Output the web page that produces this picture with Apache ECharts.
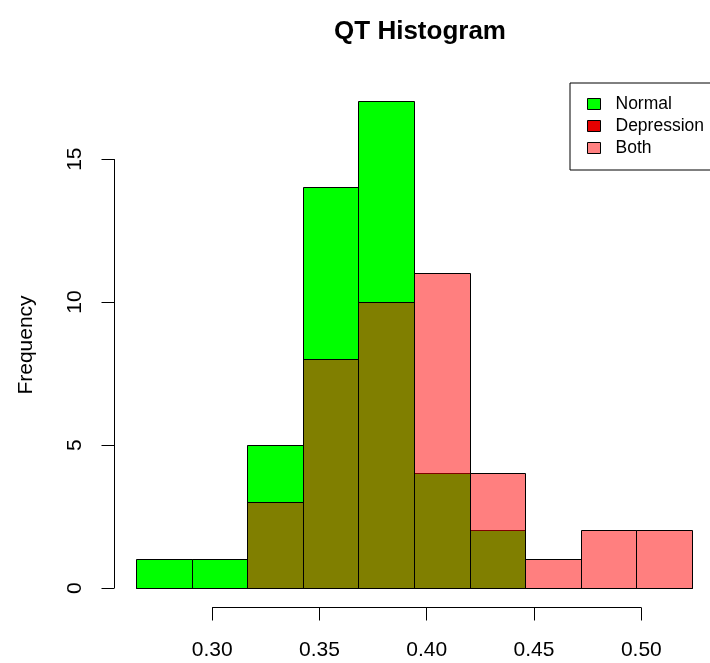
<!DOCTYPE html>
<html>
<head>
<meta charset="utf-8">
<script src="https://cdn.jsdelivr.net/npm/echarts@6/dist/echarts.min.js"></script>
<style>
  html, body { margin: 0; padding: 0; background: #fff; }
  #chart { width: 710px; height: 663px; }
</style>
</head>
<body>
<div id="chart"></div>
<script>
// Histogram bin edges (QT interval, seconds)
const breaks = [0.2648, 0.2907, 0.3166, 0.3425, 0.3684, 0.3943, 0.4202, 0.4461, 0.4720, 0.4979, 0.5238];
// Counts per bin
const normalCounts = [1, 1, 5, 14, 17, 4, 2, 0, 0, 0];
const depressionCounts = [0, 0, 3, 8, 10, 11, 4, 1, 2, 2];
// Axis ticks
const xTicks = [0.30, 0.35, 0.40, 0.45, 0.50];
const yTicks = [0, 5, 10, 15];
const legendNames = ['Normal', 'Depression', 'Both'];

// Plot range with R-style 4% padding
const xMin = 0.2545, xMax = 0.5341;
const yMin = -0.68, yMax = 17.68;

const FONT = '"Liberation Sans", Arial, sans-serif';

function binRows(counts) {
  return counts.map((c, i) => [breaks[i], breaks[i + 1], c]);
}

// Snap to pixel centres so 1px outlines stay crisp
const snap = v => Math.round(v - 0.5) + 0.5;

function histRenderer(fill) {
  return function (params, api) {
    const p0 = api.coord([api.value(0), 0]);
    const p1 = api.coord([api.value(1), api.value(2)]);
    const x0 = snap(p0[0]), x1 = snap(p1[0]);
    const yb = snap(p0[1]), yt = snap(p1[1]);
    return {
      type: 'rect',
      shape: { x: x0, y: yt, width: x1 - x0, height: yb - yt },
      style: { fill: fill, stroke: '#000', lineWidth: 1 }
    };
  };
}

const chart = echarts.init(document.getElementById('chart'), null, { renderer: 'canvas' });

chart.setOption({
  animation: false,
  backgroundColor: '#fff',
  textStyle: { fontFamily: FONT },
  title: {
    text: 'QT Histogram',
    left: 415,
    textAlign: 'center',
    top: 14,
    textStyle: { fontFamily: FONT, fontSize: 26, fontWeight: 'bold', color: '#000' }
  },
  legend: {
    orient: 'vertical',
    left: 570,
    top: 83,
    padding: [11, 12, 12, 17],
    itemGap: 2,
    itemWidth: 13,
    itemHeight: 11,
    icon: 'rect',
    backgroundColor: '#fff',
    borderColor: '#000',
    borderWidth: 1,
    borderRadius: 0,
    selectedMode: false,
    textStyle: { fontFamily: FONT, fontSize: 17.5, color: '#000', lineHeight: 20, padding: [0, 0, 0, 10] },
    data: [
      { name: legendNames[0], itemStyle: { color: '#00FF00', borderColor: '#000', borderWidth: 1 } },
      { name: legendNames[1], itemStyle: { color: '#E60000', borderColor: '#000', borderWidth: 1 } },
      { name: legendNames[2], itemStyle: { color: '#FF8080', borderColor: '#000', borderWidth: 1 } }
    ]
  },
  grid: { left: 114.5, top: 82.5, width: 600, height: 525, containLabel: false, outerBoundsMode: 'none' },
  xAxis: {
    type: 'value',
    min: xMin,
    max: xMax,
    axisLine: { show: false, onZero: false },
    splitLine: { show: false },
    axisTick: { show: true, length: 13, customValues: xTicks, lineStyle: { color: '#000' } },
    axisLabel: {
      customValues: xTicks,
      formatter: v => v.toFixed(2),
      fontSize: 21,
      color: '#000',
      margin: 32,
      fontFamily: FONT
    }
  },
  yAxis: {
    type: 'value',
    min: yMin,
    max: yMax,
    name: 'Frequency',
    nameLocation: 'middle',
    nameRotate: 90,
    nameGap: 78,
    nameTextStyle: { fontSize: 21, color: '#000', fontFamily: FONT },
    axisLine: { show: false, onZero: false },
    splitLine: { show: false },
    axisTick: { show: true, length: 13, customValues: yTicks, lineStyle: { color: '#000' } },
    axisLabel: {
      customValues: yTicks,
      rotate: 90,
      fontSize: 21,
      color: '#000',
      margin: 29,
      fontFamily: FONT
    }
  },
  series: [
    {
      name: legendNames[0],
      type: 'custom',
      renderItem: histRenderer('#00FF00'),
      encode: { x: [0, 1], y: 2 },
      data: binRows(normalCounts),
      itemStyle: { color: '#00FF00' },
      silent: true
    },
    {
      name: legendNames[1],
      type: 'custom',
      renderItem: histRenderer('rgba(255,0,0,0.5)'),
      encode: { x: [0, 1], y: 2 },
      data: binRows(depressionCounts),
      itemStyle: { color: '#E60000' },
      silent: true
    },
    {
      name: legendNames[2],
      type: 'custom',
      renderItem: () => null,
      data: [],
      itemStyle: { color: '#FF8080' },
      silent: true
    },
    // x axis line spanning first to last tick
    {
      type: 'line',
      data: [[xTicks[0], yMin], [xTicks[xTicks.length - 1], yMin]],
      symbol: 'none',
      clip: false,
      silent: true,
      lineStyle: { color: '#000', width: 1 }
    },
    // y axis line spanning first to last tick
    {
      type: 'line',
      data: [[xMin, yTicks[0]], [xMin, yTicks[yTicks.length - 1]]],
      symbol: 'none',
      clip: false,
      silent: true,
      lineStyle: { color: '#000', width: 1 }
    }
  ]
});
</script>
</body>
</html>
